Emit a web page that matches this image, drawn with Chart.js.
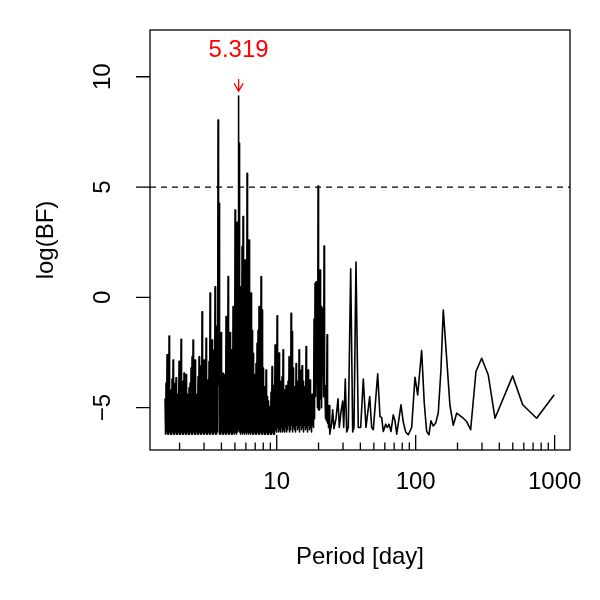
<!DOCTYPE html>
<html>
<head>
<meta charset="utf-8">
<script src="https://cdn.jsdelivr.net/npm/chart.js@4.4.1/dist/chart.umd.min.js"></script>
<style>
  html, body { margin: 0; padding: 0; background: #fff; }
</style>
</head>
<body>
<canvas id="chart" width="600" height="600"></canvas>
<script>
// periodogram, period in days
const periods = [
  1.572, 1.585, 1.598, 1.611, 1.625, 1.639, 1.652, 1.666, 1.680, 1.694,
  1.708, 1.722, 1.736, 1.750, 1.765, 1.780, 1.795, 1.810, 1.825, 1.840,
  1.855, 1.870, 1.886, 1.902, 1.918, 1.934, 1.950, 1.966, 1.982, 1.998,
  2.015, 2.032, 2.049, 2.066, 2.083, 2.100, 2.118, 2.136, 2.153, 2.171,
  2.190, 2.208, 2.226, 2.245, 2.263, 2.282, 2.301, 2.320, 2.340, 2.359,
  2.379, 2.399, 2.418, 2.438, 2.459, 2.479, 2.500, 2.521, 2.541, 2.562,
  2.584, 2.606, 2.627, 2.649, 2.671, 2.693, 2.716, 2.739, 2.761, 2.784,
  2.807, 2.830, 2.854, 2.878, 2.902, 2.926, 2.950, 2.975, 3.000, 3.025,
  3.050, 3.075, 3.101, 3.127, 3.153, 3.179, 3.205, 3.232, 3.259, 3.286,
  3.313, 3.341, 3.368, 3.396, 3.425, 3.453, 3.482, 3.511, 3.540, 3.569,
  3.599, 3.629, 3.660, 3.690, 3.721, 3.752, 3.783, 3.814, 3.846, 3.878,
  3.910, 3.943, 3.976, 4.009, 4.042, 4.076, 4.110, 4.144, 4.178, 4.213,
  4.248, 4.283, 4.319, 4.355, 4.391, 4.428, 4.465, 4.502, 4.539, 4.577,
  4.615, 4.653, 4.692, 4.731, 4.770, 4.810, 4.850, 4.890, 4.931, 4.972,
  5.014, 5.056, 5.097, 5.139, 5.183, 5.226, 5.269, 5.294, 5.319, 5.338, 5.357, 5.402,
  5.447, 5.492, 5.538, 5.584, 5.630, 5.677, 5.724, 5.772, 5.820, 5.868,
  5.917, 5.966, 6.016, 6.066, 6.117, 6.168, 6.219, 6.271, 6.323, 6.376,
  6.428, 6.481, 6.536, 6.590, 6.645, 6.700, 6.756, 6.812, 6.868, 6.925,
  6.984, 7.042, 7.100, 7.159, 7.219, 7.279, 7.339, 7.400, 7.462, 7.524,
  7.587, 7.650, 7.713, 7.777, 7.842, 7.907, 7.973, 8.039, 8.106, 8.173,
  8.242, 8.311, 8.380, 8.450, 8.520, 8.591, 8.662, 8.734, 8.807, 8.880,
  8.954, 9.028, 9.103, 9.179, 9.255, 9.332, 9.410, 9.488, 9.567, 9.647,
  9.728, 9.809, 9.890, 9.972, 10.06, 10.14, 10.22, 10.31, 10.40, 10.48,
  10.57, 10.66, 10.74, 10.83, 10.92, 11.01, 11.11, 11.20, 11.29, 11.38,
  11.48, 11.58, 11.67, 11.77, 11.87, 11.97, 12.07, 12.17, 12.27, 12.37,
  12.47, 12.57, 12.68, 12.79, 12.89, 13.00, 13.11, 13.22, 13.33, 13.44,
  13.55, 13.66, 13.78, 13.89, 14.01, 14.13, 14.24, 14.36, 14.48, 14.60,
  14.72, 14.84, 14.97, 15.09, 15.22, 15.35, 15.47, 15.60, 15.73, 15.86,
  15.99, 16.12, 16.26, 16.40, 16.53, 16.67, 16.81, 16.95, 17.09, 17.23,
  17.37, 17.51, 17.66, 17.81, 17.96, 18.11, 18.26, 18.41, 18.56, 18.71,
  18.87, 19.03, 19.19, 19.35, 19.51, 19.67, 19.84, 20.00, 20.17, 20.34,
  20.51, 20.68, 20.85, 21.02, 21.20, 21.38, 21.55, 21.73, 21.91, 22.09,
  22.28, 22.47, 22.65, 22.84, 23.03, 23.22, 23.41, 23.60, 23.80, 24.00,
  24.18, 24.87, 25.28, 25.84, 26.71, 27.61, 28.21, 29.01, 29.84, 30.34,
  31.16, 31.89, 32.74, 34.07, 35.22, 35.98, 37.20, 38.64, 40.21, 41.98,
  43.90, 46.68, 48.25, 49.55, 53.30, 55.37, 56.95, 58.48, 60.85, 62.44,
  64.28, 66.43, 69.01, 71.00, 73.04, 75.84, 78.39, 81.43, 84.73, 88.45,
  93.58, 98.85, 103.4, 110.4, 115.3, 120.0, 124.6, 128.8, 133.8, 139.3,
  145.4, 152.0, 158.0, 176.5, 186.5, 197.2, 220.0, 232.8, 248.7, 271.6,
  298.5, 333.0, 372.1, 498.8, 588.7, 742.2, 993.4
];

const logBF = [
  -4.6, -6.2, -3.9, -6.1, -2.6, -6.2, -4.3, -6.2, -1.75, -6.1,
  -4.5, -6.2, -4.2, -6.2, -3.7, -6.1, -2.84, -6.2, -4.6, -6.2,
  -3.9, -6.1, -3.65, -6.2, -4.4, -6.2, -4.8, -6.1, -2.9, -6.2,
  -4.2, -6.2, -1.9, -6.1, -4.6, -6.2, -3.8, -6.2, -3.43, -6.1,
  -4.7, -6.2, -3.5, -6.2, -4.4, -6.1, -5.0, -6.2, -4.1, -6.2,
  -3.9, -6.1, -3.2, -6.2, -2.69, -6.2, -1.93, -6.1, -4.2, -6.2,
  -2.84, -6.2, -4.4, -6.1, -4.5, -6.2, -3.6, -6.2, -2.69, -6.1,
  -3.4, -6.2, -3.1, -6.2, -0.65, -6.1, -3.6, -6.2, -2.84, -6.2,
  -3.3, -6.1, -1.86, -6.2, -4.2, -6.2, -3.75, -6.1, -2.9, -6.2,
  0.19, -6.2, -3.0, -6.1, -1.93, -6.2, -2.4, -6.2, -3.2, -6.1,
  0.48, -6.2, -2.5, -6.2, -1.3, -6.1, 8.04, -4.0, 4.26, -6.2,
  -2.8, -6.2, -1.6, -6.1, -3.9, -6.2, -3.44, -6.2, -4.4, -6.1,
  -3.5, -6.2, -0.87, -6.2, -2.6, -6.1, 0.94, -6.2, -2.0, -6.2,
  -1.6, -6.1, -2.38, -6.2, -4.2, -6.2, -0.42, -6.1, -1.5, -6.2,
  3.96, -6.1, -0.5, -6.2, 3.4, -6.1, 1.5, -6.0, 9.13, -5.0, 6.98, -6.1,
  -0.3, -6.2, 0.48, -6.1, 2.3, -6.2, 3.66, -6.1, -0.2, -6.2,
  1.69, -6.1, 0.5, -6.2, 5.62, -6.1, 1.0, -6.2, 2.6, -6.1,
  -0.5, -6.2, 0.2, -6.1, -1.5, -6.2, -2.54, -6.2, -3.5, -6.1,
  -4.35, -6.2, -3.0, -6.2, -2.08, -6.1, -1.5, -6.2, -0.42, -6.2,
  -1.8, -6.1, 0.94, -6.2, -0.57, -6.2, -3.2, -6.1, -4.05, -6.2,
  -4.6, -6.2, -3.29, -6.1, -4.5, -6.2, -4.7, -6.2, -5.0, -6.1,
  -4.95, -6.2, -4.3, -6.2, -3.14, -6.1, -4.0, -6.2, -4.6, -6.2,
  -2.16, -6.0, -3.5, -6.1, -0.84, -5.9, -3.0, -6.1, -2.53, -6.0,
  -3.8, -6.1, -4.3, -5.9, -3.6, -6.1, -2.38, -6.0, -4.2, -6.1,
  -4.8, -5.9, -4.0, -6.1, -5.3, -6.0, -3.8, -5.8, -2.69, -6.1,
  -3.5, -6.0, -0.72, -5.8, -1.55, -6.1, -3.2, -5.9, -4.05, -6.0,
  -4.4, -6.1, -3.0, -5.8, -3.8, -6.0, -4.0, -5.9, -2.38, -6.1,
  -3.3, -5.8, -4.2, -6.0, -3.1, -5.9, -3.8, -6.1, -4.05, -5.8,
  -4.5, -6.0, -2.23, -5.9, -3.9, -6.1, -3.3, -5.8, -4.2, -6.0,
  -3.75, -5.9, -4.5, -6.1, -4.4, -5.8, -4.6, -5.9, -1.0, -5.5,
  0.64, -4.5, 0.7, -3.3, -3.3, -5.0, 5.05, -5.1, -0.8, -5.1,
  1.24, -4.6, -0.42, -5.0, -0.5, -3.6, -1.0, -4.5, 2.33, -4.5,
  -4.5, -5.5, -4.0, -5.6, -1.7, -5.7, -5.0, -5.9, -4.9, -6.1,
  -6.2, -5.7, -5.1, -5.95, -5.5, -4.6, -5.9, -5.2, -4.7, -5.9,
  -3.7, -6.1, -5.9, 1.3, -6.1, -5.9, 1.6, -5.9, -5.9, -3.7,
  -5.9, -4.5, -5.9, -6.0, -3.47, -5.4, -5.45, -6.08, -5.75, -5.9,
  -5.75, -6.08, -5.33, -5.6, -6.2, -5.5, -4.87, -5.65, -6.1, -6.23,
  -5.9, -3.62, -4.42, -2.41, -4.8, -6.08, -6.23, -5.6, -5.83, -5.7,
  -5.24, -3.29, -0.57, -4.9, -5.8, -5.25, -5.48, -5.63, -6.0, -3.36,
  -2.76, -3.52, -5.48, -3.56, -4.87, -5.48, -4.42
];

const threshold = 5;
const peakPeriod = 5.319;
const peakLabel = "5.319";
const labelBaseline = 10.89;
const arrowTop = 9.9;
const arrowTip = 9.35;

const xRange = [1.225, 1290];
const yRange = [-6.92, 12.12];
const xMajorTicks = [10, 100, 1000];
const xMinorTicks = [2, 3, 4, 5, 6, 7, 8, 9, 20, 30, 40, 50, 60, 70, 80, 90,
                     200, 300, 400, 500, 600, 700, 800, 900];
const yTicks = [-5, 0, 5, 10];

const FONT = '24px "Liberation Sans", Arial, Helvetica, sans-serif';

// R-style box, inward x ticks, rotated y labels, and the peak marker
const rFrame = {
  id: 'rFrame',
  afterDraw(chart) {
    const { ctx, chartArea: a, scales: { x, y } } = chart;
    ctx.save();
    ctx.strokeStyle = '#000';
    ctx.lineWidth = 1.3;
    ctx.strokeRect(a.left, a.top, a.right - a.left, a.bottom - a.top);

    ctx.beginPath();
    xMajorTicks.forEach(v => {
      const px = x.getPixelForValue(v);
      ctx.moveTo(px, a.bottom);
      ctx.lineTo(px, a.bottom - 15);
    });
    xMinorTicks.forEach(v => {
      const px = x.getPixelForValue(v);
      ctx.moveTo(px, a.bottom);
      ctx.lineTo(px, a.bottom - 7.5);
    });
    yTicks.forEach(v => {
      const py = y.getPixelForValue(v);
      ctx.moveTo(a.left, py);
      ctx.lineTo(a.left - 14, py);
    });
    ctx.stroke();

    ctx.font = FONT;
    ctx.fillStyle = '#000';
    ctx.textAlign = 'center';
    ctx.textBaseline = 'alphabetic';
    xMajorTicks.forEach(v => ctx.fillText(String(v), x.getPixelForValue(v), a.bottom + 39));
    ctx.fillText('Period [day]', (a.left + a.right) / 2, a.bottom + 114);

    yTicks.forEach(v => {
      ctx.save();
      ctx.translate(a.left - 40.5, y.getPixelForValue(v));
      ctx.rotate(-Math.PI / 2);
      ctx.fillText(String(v).replace('-', '\u2212'), 0, 0);
      ctx.restore();
    });
    ctx.save();
    ctx.translate(53, (a.top + a.bottom) / 2);
    ctx.rotate(-Math.PI / 2);
    ctx.fillText('log(BF)', 0, 0);
    ctx.restore();

    // peak annotation
    const px = x.getPixelForValue(peakPeriod);
    const y0 = y.getPixelForValue(arrowTop);
    const y1 = y.getPixelForValue(arrowTip);
    ctx.strokeStyle = '#ff0000';
    ctx.fillStyle = '#ff0000';
    ctx.beginPath();
    ctx.moveTo(px, y0);
    ctx.lineTo(px, y1);
    ctx.moveTo(px - 4.5, y1 - 7.8);
    ctx.lineTo(px, y1);
    ctx.lineTo(px + 4.5, y1 - 7.8);
    ctx.stroke();
    ctx.fillText(peakLabel, px, y.getPixelForValue(labelBaseline));
    ctx.restore();
  }
};

new Chart(document.getElementById('chart'), {
  type: 'line',
  data: {
    datasets: [
      {
        data: periods.map((p, i) => ({ x: p, y: logBF[i] })),
        borderColor: '#000',
        borderWidth: 1.6,
        borderJoinStyle: 'round',
        pointRadius: 0,
        tension: 0,
        fill: false
      },
      {
        data: xRange.map(p => ({ x: p, y: threshold })),
        borderColor: '#000',
        borderWidth: 1.3,
        borderDash: [6, 5],
        pointRadius: 0,
        fill: false
      }
    ]
  },
  options: {
    responsive: false,
    animation: false,
    devicePixelRatio: 1,
    events: [],
    layout: { padding: { left: 150, top: 30, right: 30, bottom: 150 } },
    plugins: {
      legend: { display: false },
      tooltip: { enabled: false }
    },
    scales: {
      x: { type: 'logarithmic', min: xRange[0], max: xRange[1], display: false },
      y: { type: 'linear', min: yRange[0], max: yRange[1], display: false }
    }
  },
  plugins: [rFrame]
});
</script>
</body>
</html>
